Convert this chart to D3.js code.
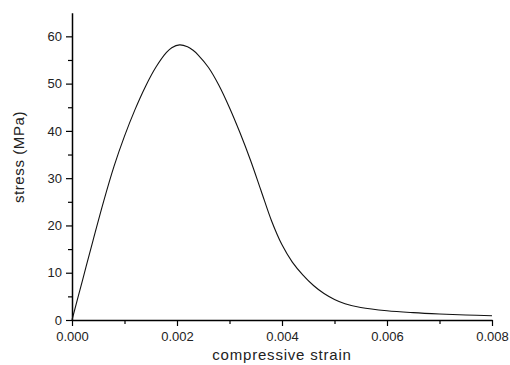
<!DOCTYPE html>
<html>
<head>
<meta charset="utf-8">
<script src="https://cdn.jsdelivr.net/npm/d3@7"></script>
<style>
  html, body { margin: 0; padding: 0; background: #fff; }
  svg { display: block; }
  text { font-family: "Liberation Sans", Arial, sans-serif; fill: #222; }
</style>
</head>
<body>
<svg id="chart" width="510" height="365"></svg>
<script>
// Data
const strain = [0, 0.0002, 0.0004, 0.0006, 0.0008, 0.001, 0.0012, 0.0014, 0.0016, 0.0018,
  0.0019, 0.00205, 0.0022, 0.0023, 0.0024, 0.0026, 0.0028, 0.003, 0.0032, 0.0034,
  0.0036, 0.0038, 0.004, 0.0042, 0.0044, 0.0046, 0.0048, 0.005, 0.0052, 0.0055,
  0.006, 0.0065, 0.007, 0.0075, 0.008];
const stress = [0, 8.4, 16.8, 25.0, 32.5, 38.9, 44.5, 49.4, 53.5, 56.6,
  57.6, 58.2, 57.8, 57.1, 56.1, 53.4, 49.6, 44.9, 39.6, 33.8,
  27.4, 21.0, 15.9, 12.2, 9.5, 7.3, 5.6, 4.35, 3.45, 2.65,
  1.95, 1.55, 1.27, 1.06, 0.91];
const xTicks = [0, 0.002, 0.004, 0.006, 0.008];
const xMinorTicks = [0.001, 0.003, 0.005, 0.007];
const yTicks = [0, 10, 20, 30, 40, 50, 60];
const yMinorTicks = [5, 15, 25, 35, 45, 55];
const xLabel = "compressive strain";
const yLabel = "stress (MPa)";

const svg = d3.select("#chart");
const x = d3.scaleLinear().domain([0, 0.008]).range([72, 492]);
const y = d3.scaleLinear().domain([0, 65]).range([320, 12.7]);

// minor ticks
const gxm = svg.append("g").attr("transform", "translate(0,320)")
  .call(d3.axisBottom(x).tickValues(xMinorTicks).tickSize(4).tickFormat(""));
gxm.select(".domain").remove();
gxm.selectAll("line").attr("stroke", "#000").attr("stroke-width", 1.2);

const gym = svg.append("g").attr("transform", "translate(72,0)")
  .call(d3.axisLeft(y).tickValues(yMinorTicks).tickSize(4).tickFormat(""));
gym.select(".domain").remove();
gym.selectAll("line").attr("stroke", "#000").attr("stroke-width", 1.2);

// major axes
const gx = svg.append("g").attr("transform", "translate(0,320)")
  .call(d3.axisBottom(x).tickValues(xTicks).tickSize(6).tickSizeOuter(0).tickPadding(6)
    .tickFormat(d3.format(".3f")));
gx.select(".domain").attr("stroke", "#000").attr("stroke-width", 1.5);
gx.selectAll("line").attr("stroke", "#000").attr("stroke-width", 1.2);
gx.selectAll("text").style("font-size", "13px").attr("fill", "#222")
  .style("font-family", "'Liberation Sans', Arial, sans-serif");

const gy = svg.append("g").attr("transform", "translate(72,0)")
  .call(d3.axisLeft(y).tickValues(yTicks).tickSize(6).tickSizeOuter(0).tickPadding(4));
gy.select(".domain").attr("stroke", "#000").attr("stroke-width", 1.5);
gy.selectAll("line").attr("stroke", "#000").attr("stroke-width", 1.2);
gy.selectAll("text").style("font-size", "13px").attr("fill", "#222")
  .style("font-family", "'Liberation Sans', Arial, sans-serif");

// axis labels
svg.append("text")
  .attr("x", 282).attr("y", 360)
  .attr("text-anchor", "middle")
  .style("font-size", "15px").style("letter-spacing", "0.8px")
  .text(xLabel);

svg.append("text")
  .attr("transform", "translate(24,157) rotate(-90)")
  .attr("text-anchor", "middle")
  .style("font-size", "15px").style("letter-spacing", "0.6px")
  .text(yLabel);

// curve
const pts = strain.map((s, i) => [s, stress[i]]);
const line = d3.line().x(d => x(d[0])).y(d => y(d[1])).curve(d3.curveCatmullRom.alpha(0.5));
svg.append("path").datum(pts)
  .attr("d", line)
  .attr("fill", "none")
  .attr("stroke", "#111")
  .attr("stroke-width", 1.1);
</script>
</body>
</html>
